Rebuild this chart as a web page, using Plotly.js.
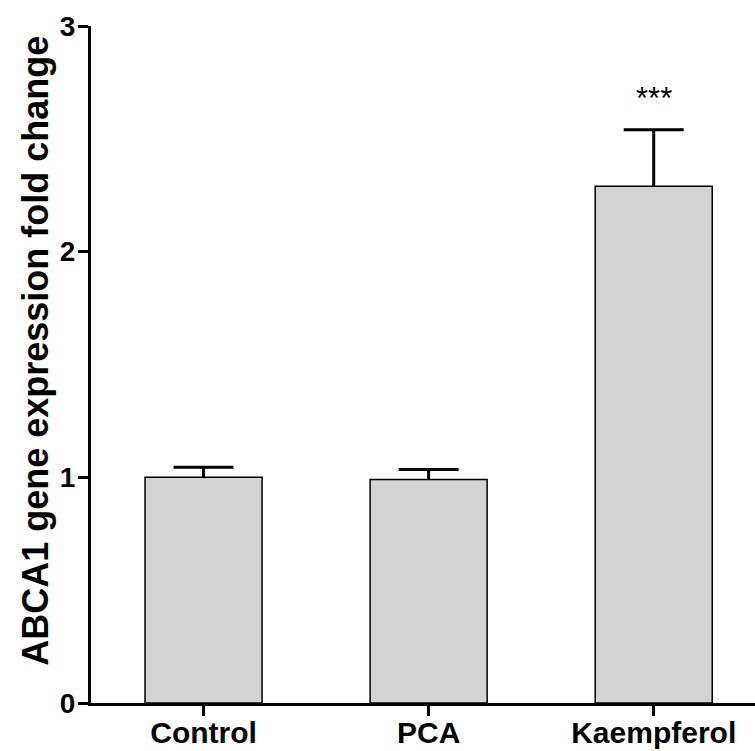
<!DOCTYPE html>
<html>
<head>
<meta charset="utf-8">
<script src="https://cdn.plot.ly/plotly-3.0.1.min.js"></script>
<style>html,body{margin:0;padding:0;background:#fff;}</style>
</head>
<body>
<div id="chart" style="width:755px;height:751px;"></div>
<script>
// Data
const categories = ["Control", "PCA", "Kaempferol"];
const foldChange = [1.00, 0.99, 2.29];
const errorPlus = [0.045, 0.045, 0.25];
const errorMinus = [0, 0, 0];
const zeroLen = [0, 0, 0];
const sigLabels = ["", "", "***"];
const yTickVals = [0, 1, 2, 3];
const yTickText = ["0", "1", "2", "3"];
const yTitle = "ABCA1 gene expression fold change";

const FONT = "Liberation Sans, Arial, Helvetica, sans-serif";

const barTop = foldChange.map((v, i) => v + errorPlus[i]);

// Bars with the error stem (no caps)
const barTrace = {
  type: "bar",
  x: categories,
  y: foldChange,
  width: 0.52,
  marker: {color: "#d3d3d3", line: {color: "#000", width: 1.5}},
  error_y: {
    type: "data",
    symmetric: false,
    array: errorPlus,
    arrayminus: errorMinus,
    color: "#000",
    thickness: 3,
    width: 0
  },
  showlegend: false
};

// Error-bar caps at the top of each SEM
const capTrace = {
  type: "scatter",
  mode: "markers",
  x: categories,
  y: barTop,
  marker: {opacity: 0, size: 1},
  error_y: {
    type: "data",
    symmetric: false,
    array: zeroLen,
    arrayminus: zeroLen,
    color: "#000",
    thickness: 3,
    width: 30
  },
  hoverinfo: "skip",
  showlegend: false
};

const annotations = categories.map((c, i) => ({
  x: c,
  y: barTop[i] + 0.14,
  xref: "x",
  yref: "y",
  text: sigLabels[i],
  showarrow: false,
  yanchor: "middle",
  font: {family: FONT, size: 31, color: "#000"}
})).filter(a => a.text);

// Y-axis title placed as a rotated annotation to match the reference position
annotations.push({
  xref: "paper",
  yref: "paper",
  x: -0.083,
  y: 0.52,
  xanchor: "center",
  yanchor: "middle",
  textangle: -90,
  text: yTitle,
  showarrow: false,
  font: {family: FONT, size: 36, color: "#000", weight: "bold"}
});

const layout = {
  width: 755,
  height: 751,
  margin: {l: 91, r: 0, t: 26, b: 48, pad: 0},
  paper_bgcolor: "#fff",
  plot_bgcolor: "rgba(0,0,0,0)",
  showlegend: false,
  xaxis: {
    type: "category",
    range: [-0.5, 2.45],
    showline: true,
    linewidth: 3,
    linecolor: "#000",
    ticks: "outside",
    ticklen: 10,
    tickwidth: 3,
    tickcolor: "#000",
    showgrid: false,
    zeroline: false,
    automargin: false,
    ticklabelstandoff: -9,
    tickfont: {family: FONT, size: 30, color: "#000", weight: "bold"}
  },
  yaxis: {
    range: [0, 3],
    tickvals: yTickVals,
    ticktext: yTickText,
    showline: true,
    linewidth: 3,
    linecolor: "#000",
    ticks: "outside",
    ticklen: 10,
    tickwidth: 3,
    tickcolor: "#000",
    showgrid: false,
    zeroline: false,
    automargin: false,
    ticklabelstandoff: -3,
    tickfont: {family: FONT, size: 28, color: "#000", weight: "bold"}
  },
  annotations: annotations
};

Plotly.newPlot("chart", [barTrace, capTrace], layout, {displayModeBar: false, staticPlot: true});
</script>
</body>
</html>
